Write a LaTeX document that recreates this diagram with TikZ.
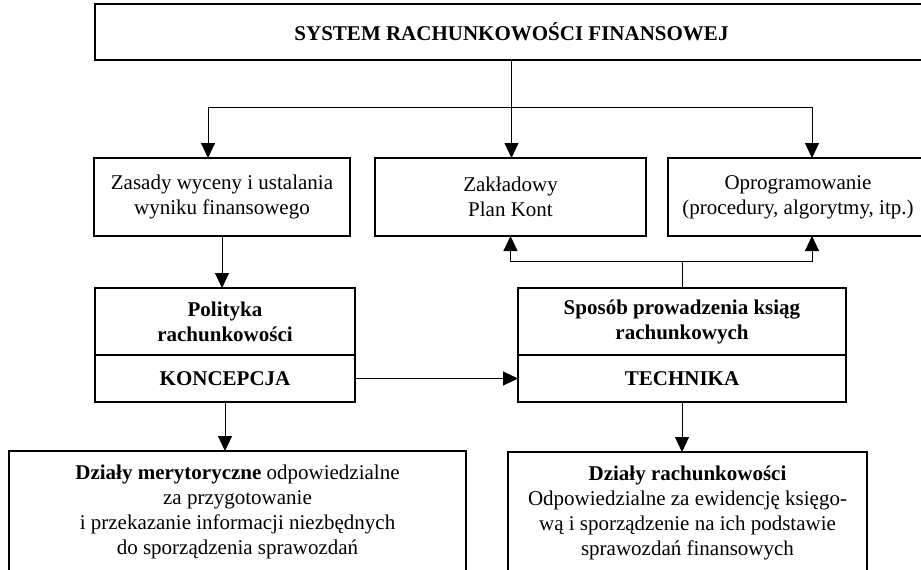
\documentclass[tikz,border=0pt]{standalone}
\usepackage{fontspec}
\setmainfont{Liberation Serif}
\usetikzlibrary{arrows.meta,positioning}
\newcommand{\boxfont}{\fontsize{21}{25}\selectfont}
\tikzset{
  box/.style  = {draw,line width=1.4pt,align=center,inner sep=2pt,outer sep=0pt,font=\boxfont},
  head/.style = {box,font=\boxfont\bfseries},
  txt/.style  = {align=center,inner sep=0pt,font=\boxfont},
  conn/.style = {line width=1pt},
  arr/.style  = {conn,-{Triangle[length=15pt,width=14pt]}}
}

\begin{document}
\begin{tikzpicture}[x=1pt,y=-1pt]
  \useasboundingbox (0,0) rectangle (921,570);
  \clip (0,0) rectangle (921,570);
  % top
  \node[head,minimum width=833,minimum height=56] (sys) at (511.5,32) {SYSTEM RACHUNKOWOŚCI FINANSOWEJ};
  % second row
  \node[box,minimum width=256,minimum height=78] (zas)  at (222,197)   {Zasady wyceny i ustalania\\wyniku finansowego};
  \node[box,minimum width=271,minimum height=78] (plan) at (510.5,197) {Zakładowy\\Plan Kont};
  \node[box,minimum width=260,minimum height=78] (prog) at (798,197)   {Oprogramowanie\\(procedury, algorytmy, itp.)};
  % policy and technique
  \node[head,minimum width=260,minimum height=67] (pol) at (225,321.5) {Polityka\\rachunkowości};
  \node[head,minimum width=260,minimum height=47,below=0pt of pol] (konc) {KONCEPCJA};
  \node[head,minimum width=328,minimum height=67] (spos) at (682,321.5) {Sposób prowadzenia ksiąg\\rachunkowych};
  \node[head,minimum width=328,minimum height=47,below=0pt of spos] (tech) {TECHNIKA};
  % departments
  \node[box,minimum width=457,minimum height=150,anchor=north] (dzm) at (237.5,451) {};
  \node[txt,below=14pt of dzm.north] (dzmtxt) {\textbf{Działy merytoryczne} odpowiedzialne\\za przygotowanie\\i przekazanie informacji niezbędnych\\do sporządzenia sprawozdań};
  \node[box,minimum width=359,minimum height=150,anchor=north] (dzr) at (687.5,452) {};
  \node[txt,below=14pt of dzr.north] (dzrtxt) {\textbf{Działy rachunkowości}\\Odpowiedzialne za ewidencję księgo-\\wą i sporządzenie na ich podstawie\\sprawozdań finansowych};
  % connectors
  \path (sys.south) ++(0,47) coordinate (fork);
  \draw[arr] (sys.south) -- (sys.south |- plan.north);
  \draw[arr] (fork) -| ([xshift=-14pt]zas.north);
  \draw[arr] (fork) -| ([xshift=14pt]prog.north);
  \draw[arr] (zas.south) -- (zas.south |- pol.north);
  \draw[arr] (konc.east) -- (konc.east -| tech.west);
  \draw[arr] (konc.south) -- (konc.south |- dzm.north);
  \draw[arr] (tech.south) -- (tech.south |- dzr.north);
  \path (spos.north) ++(0,-27) coordinate (join);
  \draw[conn] (spos.north) -- (join);
  \draw[arr] (join) -| (plan.south);
  \draw[arr] (join) -| ([xshift=14pt]prog.south);
\end{tikzpicture}
\end{document}
